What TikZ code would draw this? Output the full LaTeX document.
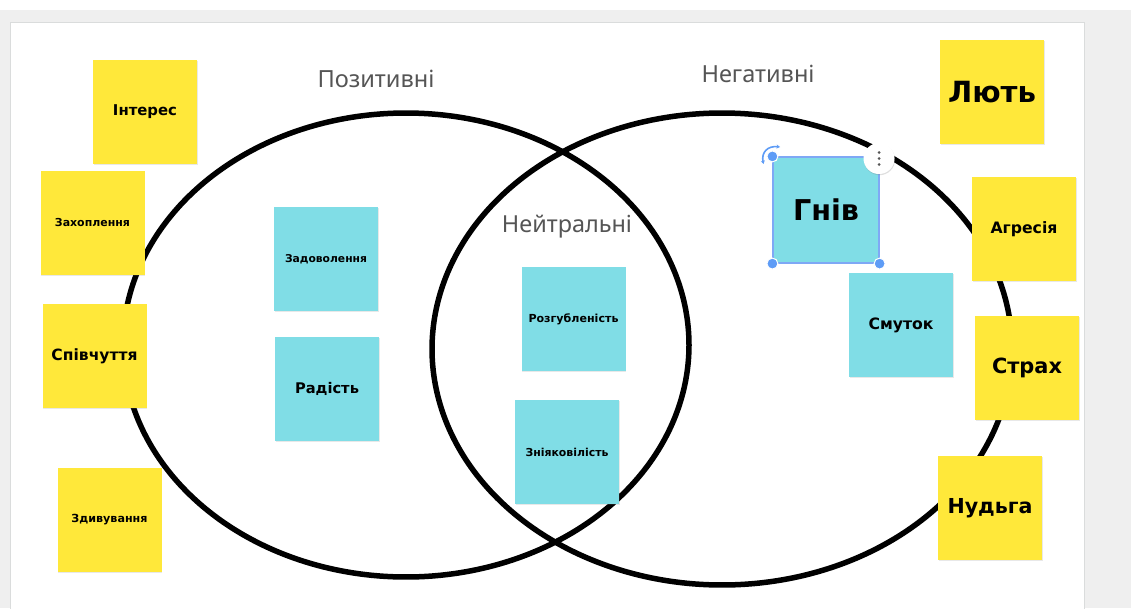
\documentclass[tikz,border=0pt]{standalone}
\usepackage{fontspec}
\usepackage{graphicx}
\setmainfont{DejaVu Sans}
\newfontfamily\titlefont{Noto Sans}
\newfontfamily\notefont{DejaVu Sans}
\usetikzlibrary{shadows,arrows.meta,calc}
\definecolor{stickyY}{HTML}{FFE83A}
\definecolor{stickyC}{HTML}{80DDE6}
\definecolor{titlegray}{HTML}{555555}
\definecolor{bggray}{HTML}{EFEFEF}
\definecolor{bordergray}{HTML}{DADCDC}
\definecolor{selblue}{HTML}{7FA8F5}
\definecolor{handleblue}{HTML}{5E9CF6}
\newcommand\lbl[2]{\resizebox{#1pt}{!}{\notefont\bfseries #2}}
\newcommand\ttltext[2]{\resizebox{#1pt}{!}{\titlefont #2}}
\tikzset{
  note/.style={minimum width=104, minimum height=104, inner sep=0pt, text=black,
    drop shadow={opacity=0.18, shadow xshift=0.6pt, shadow yshift=-1.4pt}},
  ynote/.style={note, fill=stickyY},
  cnote/.style={note, fill=stickyC},
  ttl/.style={text=titlegray, inner sep=0pt},
  venn/.style={line width=5.5pt, draw=black, line join=round, line cap=round},
  handle/.style={circle, fill=handleblue, draw=white, line width=1pt, minimum size=11pt, inner sep=0pt}
}
\begin{document}
\begin{tikzpicture}[x=1pt,y=-1pt]
% background
\fill[bggray] (0,0) rectangle (1131,608);
\fill[white] (0,0) rectangle (1131,10);
\path[use as bounding box] (0,0) rectangle (1131,608);
\filldraw[fill=white, draw=bordergray, line width=1pt] (10,22.5) rectangle (1084,612);
% Venn ellipses
\draw[venn] plot[domain=0:360, samples=240, smooth cycle, variable=\t]
  ({406+283*cos(\t)}, {345+232*sin(\t)});
\draw[venn] plot[domain=0:360, samples=240, smooth cycle, variable=\t]
  ({722+290*cos(\t)}, {349+236*sin(\t)});
% titles
\node[ttl] (pozyt) at (376,79) {\ttltext{117}{Позитивні}};
\node[ttl] (negat) at (758,74) {\ttltext{113}{Негативні}};
\node[ttl] (neitr) at (567,227) {\ttltext{130}{Нейтральні}};
% yellow notes
\node[ynote] (interes) at (145,111.5) {\lbl{64}{Інтерес}};
\node[ynote] (zakhop) at (92.5,223) {\lbl{75}{Захоплення}};
\node[ynote] (spivch) at (94.5,356) {\lbl{86}{Співчуття}};
\node[ynote] (zdyv) at (109.5,520) {\lbl{76}{Здивування}};
\node[ynote] (liut) at (992,92) {\lbl{88}{Лють}};
\node[ynote] (agres) at (1024,229) {\lbl{67}{Агресія}};
\node[ynote] (strakh) at (1027,368) {\lbl{70}{Страх}};
\node[ynote] (nudga) at (990,508) {\lbl{85}{Нудьга}};
% cyan notes
\node[cnote] (zadov) at (326,259) {\lbl{82}{Задоволення}};
\node[cnote] (radist) at (327,389) {\lbl{64}{Радість}};
\node[cnote] (rozgub) at (573.5,319) {\lbl{90}{Розгубленість}};
\node[cnote] (zniyak) at (567,452) {\lbl{83}{Зніяковілість}};
\node[cnote] (smutok) at (901,325) {\lbl{65}{Смуток}};
\node[cnote, minimum width=106, minimum height=106, draw=selblue, line width=1.2pt] (gniv) at (826,210) {\lbl{66}{Гнів}};
% selection decorations
\node[handle] (h1) at (gniv.north west) {};
\node[handle] (h2) at (gniv.south west) {};
\node[handle] (h3) at (gniv.south east) {};
\draw[handleblue, line width=1.6pt, {Stealth[length=3.5pt,width=4pt]}-{Stealth[length=3.5pt,width=4pt]}]
  (763.5,164) .. controls (761,152) and (768,145.5) .. (780,147);
\node[circle, fill=white, minimum size=31pt, inner sep=0pt,
  drop shadow={opacity=0.25, shadow xshift=0.5pt, shadow yshift=-1.2pt}] (menu) at (879,158.5) {};
\foreach \dy in {-6,0,6} \fill[titlegray] ($(menu.center)+(0,\dy)$) circle (1.5pt);
\end{tikzpicture}
\end{document}
